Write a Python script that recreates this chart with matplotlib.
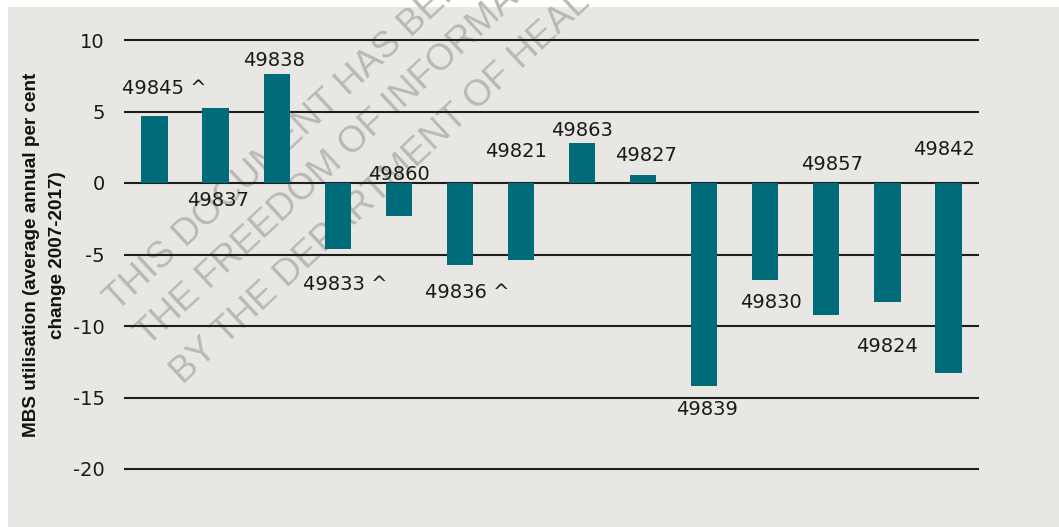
import matplotlib
matplotlib.use("Agg")
import matplotlib.pyplot as plt
from matplotlib.patches import Rectangle

# ---- data ----
items = ["49845 ^", "49837", "49838", "49833 ^", "49860", "49836 ^", "49821",
         "49863", "49827", "49839", "49830", "49857", "49824", "49842"]
values = [4.7, 5.25, 7.6, -4.6, -2.3, -5.7, -5.4, 2.8, 0.55, -14.2, -6.8, -9.2, -8.3, -13.3]
yticks = [-20, -15, -10, -5, 0, 5, 10]
ylabel = "MBS utilisation (average annual per cent\nchange 2007-2017)"
watermark = ["THIS DOCUMENT HAS BEEN RELEASED UNDER",
             "THE FREEDOM OF INFORMATION ACT 1982",
             "BY THE DEPARTMENT OF HEALTH"]

# ---- layout (label centre offsets, data units) ----
label_dx = [0.155, 0.04, -0.04, 0.12, 0.0, 0.12, -0.08, 0.0, 0.05, 0.05, 0.10, 0.09, 0.0, -0.07]
label_y = [6.7, -1.1, 8.7, -7.0, 0.7, -7.55, 2.3, 3.8, 2.0, -15.7, -8.25, 1.4, -11.3, 2.45]

W, H = 1059, 527
fig = plt.figure(figsize=(W / 100, H / 100), dpi=100, facecolor="white")

BG = "#E8E7E3"
fig.patches.append(Rectangle((8 / W, 0), 1 - 8 / W, 1 - 7 / H, transform=fig.transFigure,
                             facecolor=BG, edgecolor="none", zorder=-3))

# watermark (behind plot)
wm_starts = [(117, 312), (148, 347), (183, 385)]
for (px, py), line in zip(wm_starts, watermark):
    fig.text(px / W, 1 - py / H, line, rotation=43, rotation_mode="anchor",
             ha="left", va="baseline", fontsize=26.5, family="Liberation Sans",
             color="#B9B8B5", zorder=-2)

# axes: y=10 at px 40, y=-20 at px 469
ppu = (469 - 40) / 30.0
ymin, ymax = -21, 11
top_px = 40 - (ymax - 10) * ppu
bot_px = 469 + (-20 - ymin) * ppu
ax = fig.add_axes([124 / W, 1 - bot_px / H, (979 - 124) / W, (bot_px - top_px) / H])
ax.set_facecolor("none")
ax.set_zorder(1)

x = list(range(len(values)))
ax.bar(x, values, width=0.43, color="#006B79", zorder=3)
for yv in yticks:
    ax.axhline(yv, color="#1E1E1E", lw=1.5, zorder=2)

ax.set_xlim(-0.5, len(values) - 0.5)
ax.set_ylim(ymin, ymax)
ax.set_yticks(yticks)
ax.set_yticklabels([str(t) for t in yticks], fontsize=14, family="DejaVu Sans", color="#1a1a1a")
ax.tick_params(axis="y", length=0, pad=14)
ax.set_xticks([])
for s in ax.spines.values():
    s.set_visible(False)

for i, (lab, dx, ly) in enumerate(zip(items, label_dx, label_y)):
    ax.text(i + dx, ly - 0.49, lab, ha="center", va="baseline", fontsize=14,
            family="DejaVu Sans", color="#1a1a1a", zorder=4)

fig.text(44.5 / W, 1 - 255 / H, ylabel, rotation=90, ha="center", va="center",
         multialignment="center", fontsize=13.6, fontweight="bold",
         family="Liberation Sans", linespacing=1.65, color="#111111")

fig.savefig("out.png", dpi=100, facecolor="white")
